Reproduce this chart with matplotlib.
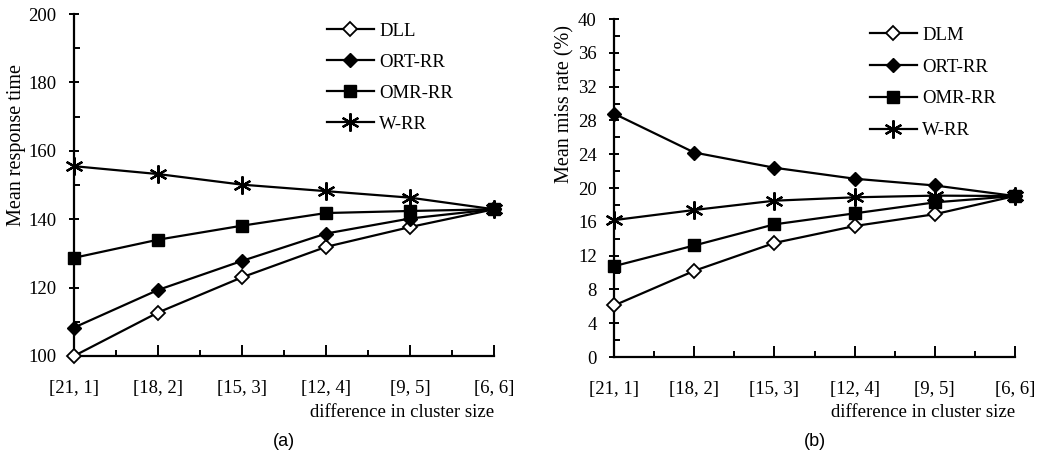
import numpy as np
import matplotlib
matplotlib.use('Agg')
import matplotlib.pyplot as plt
from matplotlib.ticker import MultipleLocator

categories = ['[21, 1]', '[18, 2]', '[15, 3]', '[12, 4]', '[9, 5]', '[6, 6]']

# (a) mean response time
resp_dll = [100.0, 112.7, 123.0, 131.9, 137.7, 142.9]
resp_ort = [108.3, 119.3, 127.8, 135.8, 140.2, 142.9]
resp_omr = [128.7, 134.0, 138.1, 141.8, 142.4, 142.9]
resp_wrr = [155.5, 153.2, 150.1, 148.2, 146.3, 142.9]

# (b) mean miss rate (%)
miss_dlm = [6.1, 10.2, 13.5, 15.5, 16.9, 19.05]
miss_ort = [28.8, 24.2, 22.4, 21.1, 20.3, 19.05]
miss_omr = [10.75, 13.2, 15.7, 17.0, 18.3, 19.05]
miss_wrr = [16.2, 17.4, 18.5, 18.9, 19.1, 19.05]

plt.rcParams['font.family'] = 'Liberation Serif'

fig = plt.figure(figsize=(10.52, 4.73), dpi=100)
ax1 = fig.add_axes([0.0703, 0.2474, 0.3993, 0.7230])
ax2 = fig.add_axes([0.5837, 0.2452, 0.3811, 0.7146])

x = np.arange(len(categories))
asterisk = (6, 2, 0)
styles = [
    dict(marker='D', ms=6.8, mfc='white', mec='black', mew=1.3),
    dict(marker='D', ms=6.8, mfc='black', mec='black', mew=1.0),
    dict(marker='s', ms=9, mfc='black', mec='black', mew=1.0),
    dict(marker=asterisk, ms=13, mfc='none', mec='black', mew=1.6),
]


def draw(ax, series, labels, ylim, major, minor, ylabel, ypos, caption, legpos, spacing):
    for vals, lab, st in zip(series, labels, styles):
        ax.plot(x, vals, color='black', lw=1.6, label=lab, clip_on=False, zorder=3, **st)
    ax.set_xlim(0, len(categories) - 1)
    ax.set_ylim(*ylim)
    ax.spines['top'].set_visible(False)
    ax.spines['right'].set_visible(False)
    for s in ('left', 'bottom'):
        ax.spines[s].set_linewidth(1.6)
    ax.set_xticks(x)
    ax.set_xticklabels(categories)
    ax.set_xticks(x[:-1] + 0.5, minor=True)
    ax.yaxis.set_major_locator(MultipleLocator(major))
    ax.yaxis.set_minor_locator(MultipleLocator(minor))
    ax.tick_params(axis='x', which='major', direction='in', length=8, width=1.4, pad=17, labelsize=13.5)
    ax.tick_params(axis='x', which='minor', direction='in', length=4, width=1.4)
    ax.tick_params(axis='y', which='major', direction='inout', length=7, width=1.4, pad=9, labelsize=13.5)
    ax.tick_params(axis='y', which='minor', direction='in', length=4, width=1.4)
    ax.text(ypos[0], ypos[1], ylabel, transform=ax.transAxes, rotation=90,
            ha='center', va='center', fontsize=14.5)
    ax.text(1.0, -0.14, 'difference in cluster size', transform=ax.transAxes,
            ha='right', va='top', fontsize=13.5)
    ax.text(0.5, -0.225, caption, transform=ax.transAxes, ha='center', va='top',
            fontsize=13, family='Liberation Sans')
    ax.legend(loc='upper left', bbox_to_anchor=legpos, frameon=False, fontsize=13.5,
              handlelength=2.5, handletextpad=0.3, labelspacing=spacing,
              borderaxespad=0, borderpad=0)


draw(ax1, [resp_dll, resp_ort, resp_omr, resp_wrr], ['DLL', 'ORT-RR', 'OMR-RR', 'W-RR'],
     (100, 200), 20, 10, 'Mean response time', (-0.136, 0.617), '(a)', (0.602, 0.975), 0.74)
draw(ax2, [miss_dlm, miss_ort, miss_omr, miss_wrr], ['DLM', 'ORT-RR', 'OMR-RR', 'W-RR'],
     (0, 40), 4, 2, 'Mean miss rate (%)', (-0.122, 0.749), '(b)', (0.638, 0.978), 0.79)

fig.savefig('out.png', dpi=100)
